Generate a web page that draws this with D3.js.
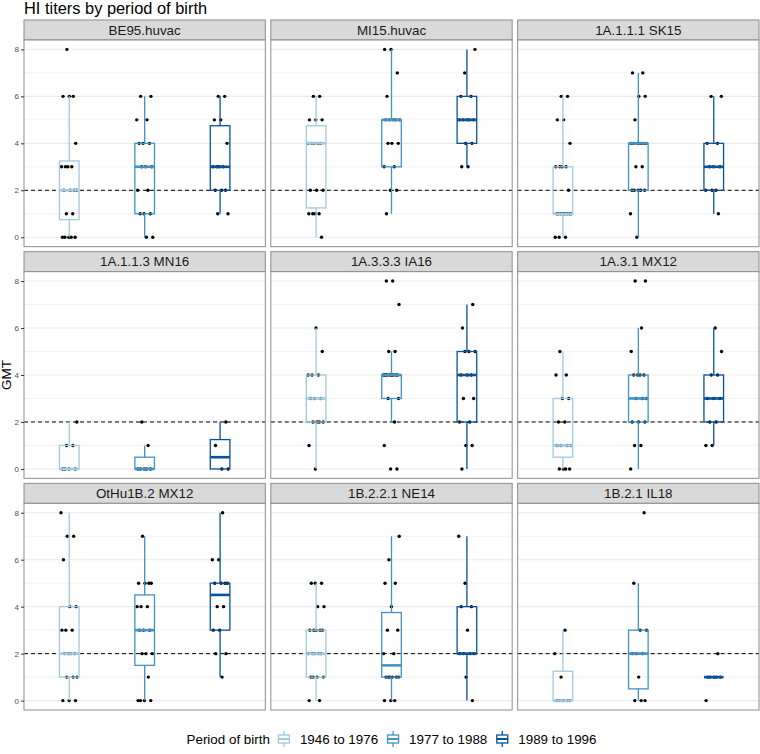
<!DOCTYPE html>
<html><head><meta charset="utf-8">
<script src="https://cdn.jsdelivr.net/npm/d3@7"></script>
<style>body{margin:0;background:#fff}svg{display:block;font-family:"Liberation Sans",Arial,sans-serif}</style>
</head><body><svg id="c" width="760" height="754"></svg>
<script>
const chartTitle = "HI titers by period of birth";
const yTitle = "GMT";
const legendTitle = "Period of birth";
const panels = ["BE95.huvac","MI15.huvac","1A.1.1.1 SK15","1A.1.1.3 MN16","1A.3.3.3 IA16","1A.3.1 MX12","OtHu1B.2 MX12","1B.2.2.1 NE14","1B.2.1 IL18"];
const periods = ["1946 to 1976","1977 to 1988","1989 to 1996"];
const periodColors = ["#9ecae1","#4292c6","#08519c"];
const yTicks = [0,2,4,6,8];
const yMinor = [1,3,5,7];
const threshold = 2;

const titersBE95 = [[0,0,0,0,0,1,1,2,2,2,2,3,3,3,3,4,6,6,6,8],[0,0,1,1,1,2,2,3,3,3,4,4,4,5,5,6,6],[1,1,2,2,2,3,3,3,3,4,5,5,6,6]];
const titersMI15 = [[0,1,1,1,1,2,2,2,4,4,4,4,4,5,5,5,6,6],[1,2,2,3,3,4,4,4,5,5,5,5,5,6,7,8,8],[3,3,4,4,5,5,5,5,5,6,6,7,8]];
const titersSK15 = [[0,0,0,1,1,1,1,1,1,1,1,2,3,3,3,3,4,5,5,6,6],[0,1,2,2,2,2,2,3,3,4,4,4,4,4,4,4,5,6,6,7,7],[1,2,2,2,3,3,3,4,4,6,6]];
const titersMN16 = [[0,0,0,0,1,1,2],[0,0,0,0,0,1,2],[0,0,1,2]];
const titersIA16 = [[0,1,2,2,2,2,3,3,3,4,4,4,5,6],[0,0,1,2,3,3,4,4,4,4,4,4,4,4,4,4,5,5,7,8,8],[0,1,1,2,2,3,3,4,4,4,5,5,5,6,7]];
const titersMX12 = [[0,0,0,0,1,1,1,1,2,2,3,3,4,4,5],[0,1,1,2,2,2,3,3,3,4,4,4,4,5,6,8,8],[1,1,2,2,3,3,3,4,4,5,6]];
const titersOtHuMX12 = [[0,0,0,1,1,1,2,2,2,2,3,3,3,4,4,6,7,7,8],[0,0,0,0,1,2,2,2,3,3,3,4,4,4,5,5,5,5,7],[1,2,2,3,3,4,4,5,5,5,5,6,6,8]];
const titersNE14 = [[0,0,1,1,1,1,2,2,2,2,2,3,3,3,3,3,4,4,5,5,5],[0,0,0,1,1,1,1,1,1,2,2,3,3,4,5,5,6,7],[0,1,2,2,2,2,3,4,4,5,7]];
const titersIL18 = [[0,0,0,0,0,1,2,3],[0,0,0,1,2,2,2,3,3,5,8],[0,1,1,1,1,1,2]];
const titers = [titersBE95,titersMI15,titersSK15,titersMN16,titersIA16,titersMX12,titersOtHuMX12,titersNE14,titersIL18];

(function(){
const svg = d3.select("#c");
const L = 24, R = 759, gapX = 5.5, T = 20, B = 710, gapY = 5, stripH = 20;
const panelW = (R - L - 2*gapX)/3;
const rowH = (B - T - 2*gapY)/3;
const panelH = rowH - stripH;
const border = "#8c8c8c";

svg.append("text").attr("x", L).attr("y", 14).attr("font-size", 16.4).attr("fill", "#000").text(chartTitle);

const y = d3.scaleLinear().domain([-0.4, 8.4]).range([panelH, 0]);
const x = d3.scaleLinear().domain([0.4, 3.6]).range([0, panelW]);
const boxW = 0.26, jitterW = 0.11;

function stats(vals){
  const s = vals.slice().sort(d3.ascending);
  const q1 = d3.quantile(s, .25), med = d3.quantile(s, .5), q3 = d3.quantile(s, .75);
  const iqr = q3 - q1;
  const lo = d3.min(s.filter(v => v >= q1 - 1.5*iqr));
  const hi = d3.max(s.filter(v => v <= q3 + 1.5*iqr));
  return {q1, med, q3, lo, hi};
}

panels.forEach((name, p) => {
  const col = p % 3, row = Math.floor(p / 3);
  const px = L + col*(panelW + gapX);
  const py = T + row*(rowH + gapY);
  const g = svg.append("g").attr("transform", `translate(${px},${py})`);
  g.append("rect").attr("x", 0).attr("y", 0).attr("width", panelW).attr("height", stripH)
    .attr("fill", "#d9d9d9").attr("stroke", border).attr("stroke-width", 1);
  g.append("text").attr("x", panelW/2).attr("y", stripH/2 + 4.8).attr("text-anchor", "middle")
    .attr("font-size", 13.4).attr("fill", "#1a1a1a").text(name);
  const pg = g.append("g").attr("transform", `translate(0,${stripH})`);
  pg.append("rect").attr("width", panelW).attr("height", panelH).attr("fill", "#fff");
  pg.selectAll(".minor").data(yMinor).join("line")
    .attr("x1", 0).attr("x2", panelW).attr("y1", d => y(d)).attr("y2", d => y(d))
    .attr("stroke", "#ebebeb").attr("stroke-width", 0.6);
  pg.selectAll(".major").data(yTicks).join("line")
    .attr("x1", 0).attr("x2", panelW).attr("y1", d => y(d)).attr("y2", d => y(d))
    .attr("stroke", "#ebebeb").attr("stroke-width", 1.1);
  pg.append("line").attr("x1", 0).attr("x2", panelW).attr("y1", y(threshold)).attr("y2", y(threshold))
    .attr("stroke", "#000").attr("stroke-width", 1).attr("stroke-dasharray", "4,3");
  titers[p].forEach((vals, gi) => {
    const cx = gi + 1;
    pg.append("g").selectAll("circle").data(vals).join("circle")
      .attr("cx", (d, i) => x(cx + ((((i+1)*0.6180339887 + gi*0.37 + p*0.21) % 1) - 0.5)*2*jitterW))
      .attr("cy", d => y(d)).attr("r", 1.7).attr("fill", "#000");
    const s = stats(vals);
    const c = periodColors[gi];
    const bg = pg.append("g").attr("stroke", c).attr("fill", "none");
    bg.append("line").attr("x1", x(cx)).attr("x2", x(cx)).attr("y1", y(s.q3)).attr("y2", y(s.hi)).attr("stroke-width", 1.3);
    bg.append("line").attr("x1", x(cx)).attr("x2", x(cx)).attr("y1", y(s.q1)).attr("y2", y(s.lo)).attr("stroke-width", 1.3);
    bg.append("rect").attr("x", x(cx - boxW/2)).attr("width", x(cx + boxW/2) - x(cx - boxW/2))
      .attr("y", y(s.q3)).attr("height", Math.max(0, y(s.q1) - y(s.q3))).attr("stroke-width", 1.3);
    bg.append("line").attr("x1", x(cx - boxW/2)).attr("x2", x(cx + boxW/2)).attr("y1", y(s.med)).attr("y2", y(s.med)).attr("stroke-width", 2.6);
  });
  pg.append("rect").attr("width", panelW).attr("height", panelH).attr("fill", "none").attr("stroke", border).attr("stroke-width", 1);
  if (col === 0) {
    const ax = d3.axisLeft(y).tickValues(yTicks).tickSize(3).tickPadding(2);
    const a = pg.append("g").call(ax);
    a.select(".domain").remove();
    a.selectAll("line").attr("stroke", "#333");
    a.selectAll("text").attr("font-size", 8).attr("fill", "#4d4d4d").attr("font-family", "Liberation Sans, Arial, sans-serif");
  }
});

svg.append("text").attr("transform", `translate(11,${(T + stripH + B)/2}) rotate(-90)`)
  .attr("text-anchor", "middle").attr("font-size", 13.5).attr("fill", "#000").text(yTitle);

const lg = svg.append("g");
const ly = 739;
const fs = 13.4;
const lt = lg.append("text").attr("x", 0).attr("y", ly + 5).attr("font-size", fs).text(legendTitle);
let cxp = lt.node().getComputedTextLength() + 7;
periods.forEach((lab, i) => {
  const kg = lg.append("g").attr("transform", `translate(${cxp},${ly})`).attr("stroke", periodColors[i]).attr("fill", "none").attr("stroke-width", 1.3);
  kg.append("line").attr("x1", 7).attr("x2", 7).attr("y1", -8).attr("y2", -4);
  kg.append("line").attr("x1", 7).attr("x2", 7).attr("y1", 4).attr("y2", 8);
  kg.append("rect").attr("x", 1.5).attr("y", -4).attr("width", 11).attr("height", 8);
  kg.append("line").attr("x1", 1.5).attr("x2", 12.5).attr("y1", 0).attr("y2", 0).attr("stroke-width", 2);
  cxp += 23;
  const t = lg.append("text").attr("x", cxp).attr("y", ly + 5).attr("font-size", fs).text(lab);
  cxp += t.node().getComputedTextLength() + 8;
});
const lw = cxp - 8;
lg.attr("transform", `translate(${(L + R)/2 - lw/2},0)`);
})();
</script></body></html>
